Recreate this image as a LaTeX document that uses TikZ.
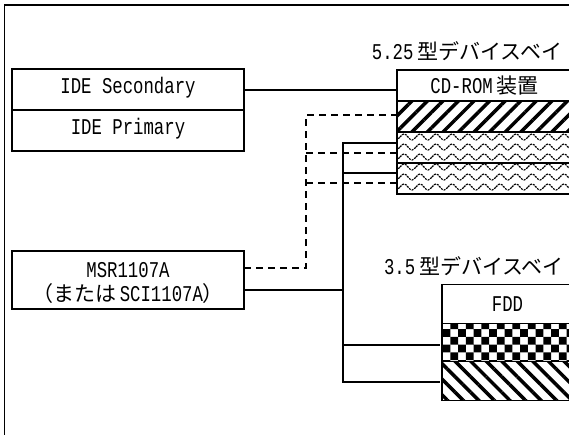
\documentclass[tikz,border=0pt]{standalone}
\usepackage{fontspec}
\usepackage{xcolor}
\usepackage{tikz}
\usetikzlibrary{patterns, patterns.meta}
\setmainfont[FakeStretch=0.77]{Liberation Mono}
\newfontfamily\jpfont{Noto Sans CJK JP}
\newcommand{\jp}[1]{{\jpfont\fontsize{21pt}{24pt}\selectfont #1}}
\pgfdeclarepatternformonly{bayblocks}{\pgfqpoint{0pt}{0pt}}{\pgfqpoint{22pt}{22pt}}{\pgfqpoint{15.5pt}{15.5pt}}{
    \pgfpathrectangle{\pgfqpoint{8.5pt}{5pt}}{\pgfqpoint{7.75pt}{7.75pt}}
    \pgfpathrectangle{\pgfqpoint{0.75pt}{12.75pt}}{\pgfqpoint{7.75pt}{7.75pt}}
    \pgfusepath{fill}
}
\pgfdeclarepatternformonly{baywaves}{\pgfqpoint{-1pt}{0pt}}{\pgfqpoint{17pt}{14pt}}{\pgfqpoint{16pt}{10pt}}{
    \pgfsetlinewidth{1.2pt}
    \pgfsetdash{{2pt}{1pt}}{0pt}
    \pgfpathmoveto{\pgfqpoint{0pt}{8pt}}
    \pgfpathcurveto{\pgfqpoint{3pt}{12pt}}{\pgfqpoint{5pt}{12pt}}{\pgfqpoint{8pt}{8pt}}
    \pgfpathcurveto{\pgfqpoint{11pt}{4pt}}{\pgfqpoint{13pt}{4pt}}{\pgfqpoint{16pt}{8pt}}
    \pgfusepath{stroke}
}
\begin{document}
\begin{tikzpicture}[
    x=1pt, y=-1pt,
    panel/.style={rectangle, draw=black, fill=white, line width=1.3pt, minimum width=232pt, align=center, font=\fontsize{22.5pt}{24pt}\selectfont, inner sep=0pt},
    bay/.style={panel, minimum width=175pt, minimum height=31pt},
    fdbay/.style={panel, minimum width=131pt, minimum height=38.5pt},
    lbl/.style={font=\fontsize{22.5pt}{24pt}\selectfont, inner sep=0pt},
    cable/.style={line width=1.3pt},
    ribbon/.style={line width=1.3pt, dash pattern=on 7pt off 5pt}
]
    \clip (0,0) rectangle (569,435);
    % --- outer frame ---
    \node[draw=black, line width=1.2pt, minimum width=600pt, minimum height=460pt, anchor=north west, inner sep=0pt] (frame) at (3.5,4.5) {};

    % --- left side boards ---
    \node[panel, minimum height=41pt] (secondary) at (128,89.5) {};
    \node[panel, minimum height=41pt] (primary) at (128,130.5) {};
    \node[panel, minimum height=58pt] (msr) at (128,280) {};
    \node[lbl] (secondarytext) at (128,88) {IDE Secondary};
    \node[lbl] (primarytext) at (128,129) {IDE Primary};
    \node[lbl, align=center] (msrtext) at (128,283) {MSR1107A\\\jp{（または}\,SCI1107A\jp{）}};

    % --- 5.25 bay ---
    \node[lbl] (bay525) at (467,51) {5.25\,\jp{型デバイスベイ}};
    \node[bay] (cdrom) at (484.5,85.5) {CD-ROM\,\jp{装置}};
    \node[bay, pattern={Lines[angle=45, distance=11pt, line width=3.5pt]}] (hatch) at (484.5,116.5) {};
    \node[bay, pattern=baywaves] (wave1) at (484.5,147.5) {};
    \node[bay, pattern=baywaves] (wave2) at (484.5,178.5) {};

    % --- 3.5 bay ---
    \node[lbl] (bay35) at (474,266) {3.5\,\jp{型デバイスベイ}};
    \node[fdbay] (fdd) at (507.5,304) {FDD};
    \node[fdbay, pattern=bayblocks] (check) at (507.5,342.5) {};
    \node[fdbay, pattern={Lines[angle=-45, distance=11pt, line width=3.5pt]}] (diag) at (507.5,381) {};

    % Solid cables
    \draw[cable] (secondary.east |- 0,90) -- (cdrom.west |- 0,90);
    \coordinate (msrout) at (244,290);
    \coordinate (trunk) at (343,290);
    \draw[cable] (msrout) -- (trunk);
    \draw[cable] (cdrom.west |- 0,143) -| (trunk) |- (diag.west |- 0,382);
    \draw[cable] (trunk |- 0,173) -- (cdrom.west |- 0,173);
    \draw[cable] (trunk |- 0,345) -- (diag.west |- 0,345);

    % Dashed cables
    \coordinate (msrdash) at (244,268);
    \coordinate (riser) at (306,115);
    \draw[ribbon] (msrdash) -| (riser) -- (cdrom.west |- 0,115);
    \draw[ribbon] (riser |- 0,153) -- (cdrom.west |- 0,153);
    \draw[ribbon] (riser |- 0,183) -- (cdrom.west |- 0,183);
\end{tikzpicture}
\end{document}
